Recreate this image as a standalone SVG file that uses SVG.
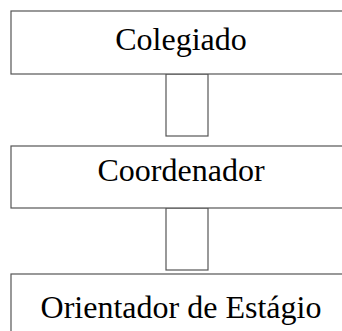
<svg xmlns="http://www.w3.org/2000/svg" width="342" height="331" viewBox="0 0 342 331">
<style>
.box{fill:#fff;stroke:#555;stroke-width:1.2}
.con{fill:#fff;stroke:#555;stroke-width:1.2}
.t{font-family:"Liberation Serif","Times New Roman",serif;font-size:32px;fill:#000;text-anchor:middle}
</style>
<rect width="342" height="331" fill="#fff"/>
<g id="connectors">
<rect class="con" x="166" y="74" width="42" height="62"/>
<rect class="con" x="166" y="208" width="42" height="62"/>
</g>
<g id="node-colegiado">
<rect class="box" x="11" y="11" width="340" height="63"/>
<text class="t" x="181" y="50">Colegiado</text>
</g>
<g id="node-coordenador">
<rect class="box" x="11" y="146" width="340" height="62"/>
<text class="t" x="181" y="181">Coordenador</text>
</g>
<g id="node-orientador">
<rect class="box" x="11" y="274" width="340" height="70"/>
<text class="t" x="181" y="318">Orientador de Estágio</text>
</g>
</svg>
